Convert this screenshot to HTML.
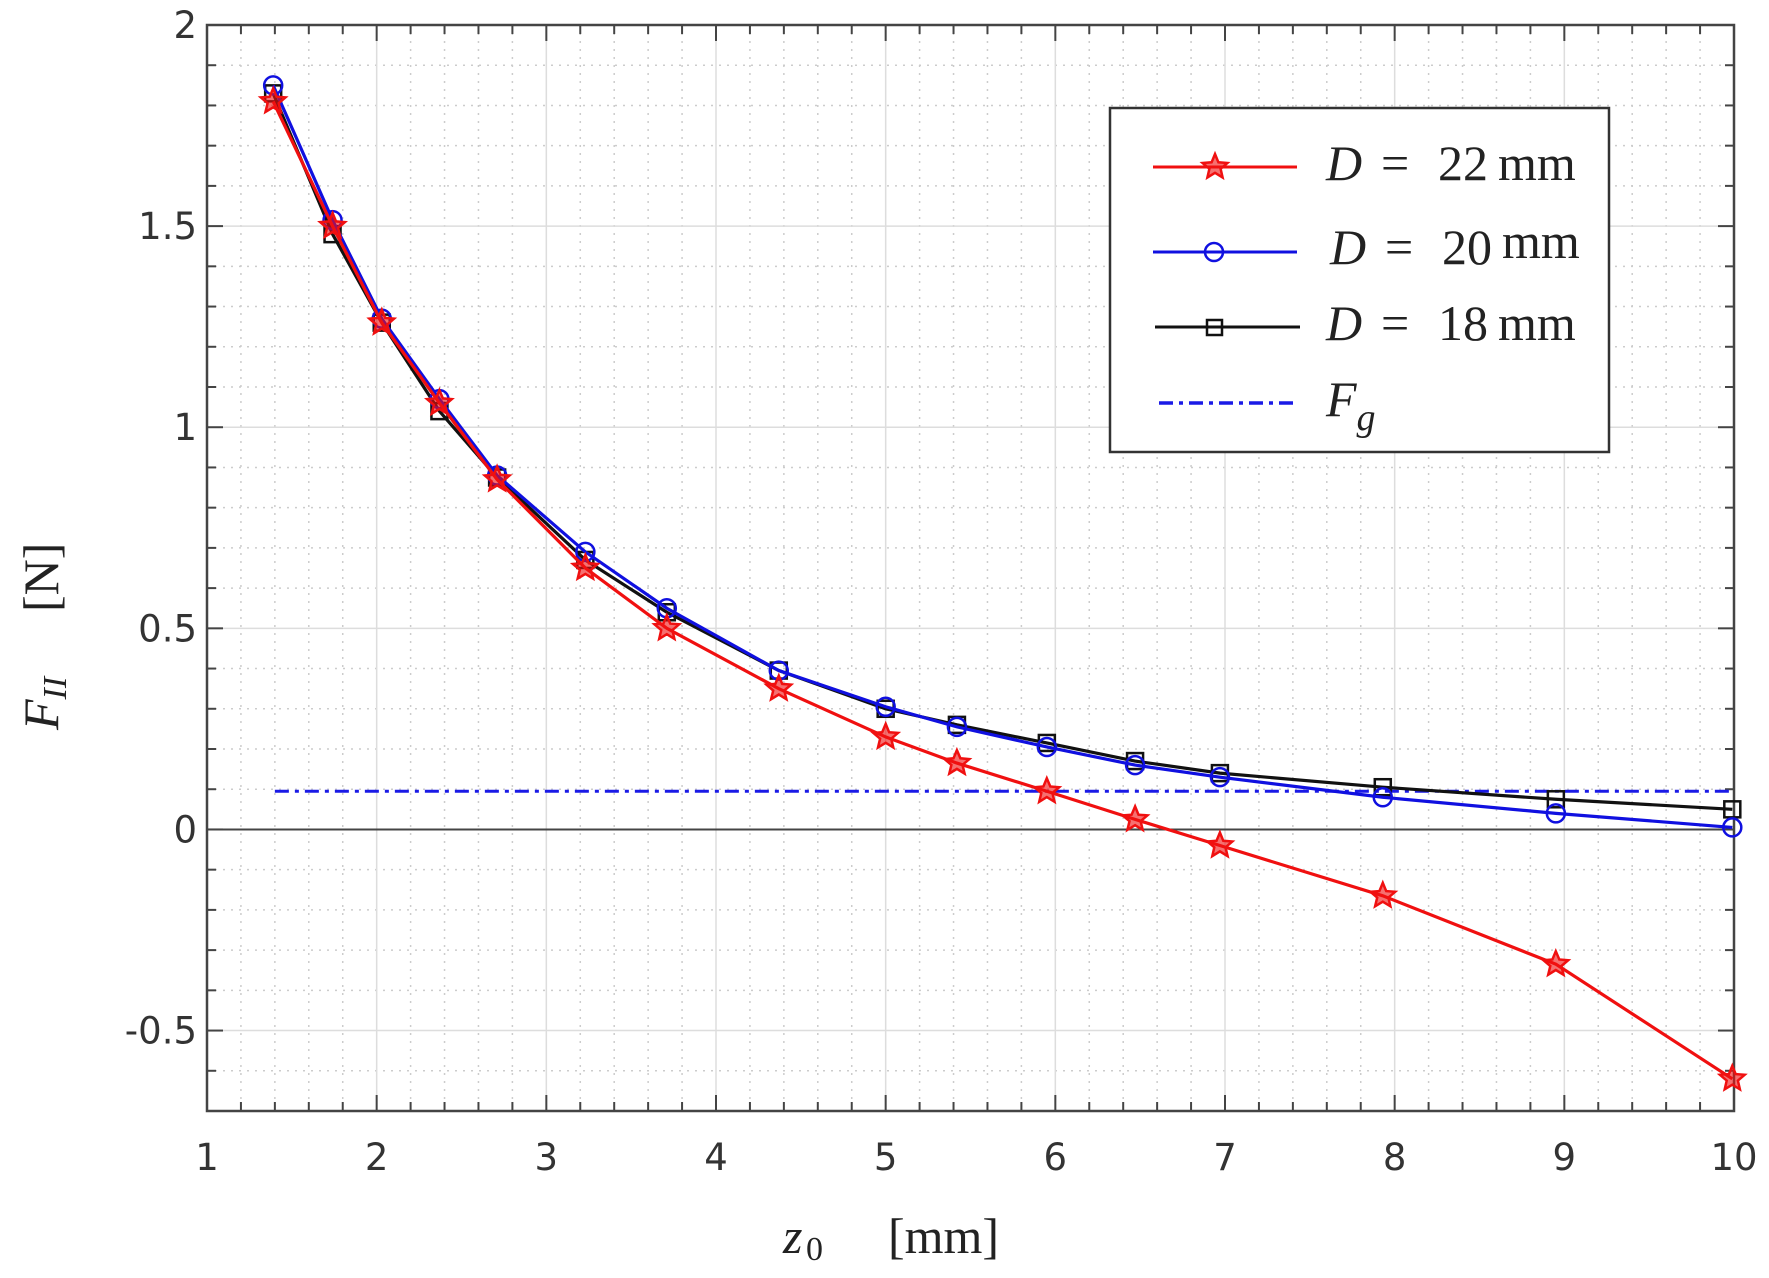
<!DOCTYPE html>
<html><head><meta charset="utf-8"><style>
html,body{margin:0;padding:0;background:#fff;width:1769px;height:1278px;overflow:hidden}
</style></head><body>
<svg id="s" xmlns="http://www.w3.org/2000/svg" width="1769" height="1278" viewBox="0 0 1769 1278"></svg>
<script>
const L=207,R=1734,T=25,B=1111;
const X=x=>L+(x-1)*(R-L)/9;
const Y=y=>T+(2-y)*(B-T)/2.7;
let h='<rect width="1769" height="1278" fill="#fff"/>';
for(let i=0;i<=45;i++){let x=1+i*0.2;if(i%5==0)continue;h+=`<line x1="${X(x)}" y1="${T}" x2="${X(x)}" y2="${B}" stroke="#ccc" stroke-width="1.5" stroke-dasharray="2,6"/>`;}
for(let i=0;i<=27;i++){let y=-0.7+i*0.1;if(Math.abs(Math.round(y*2)-y*2)<1e-6)continue;h+=`<line x1="${L}" y1="${Y(y)}" x2="${R}" y2="${Y(y)}" stroke="#ccc" stroke-width="1.5" stroke-dasharray="2,6"/>`;}
for(let x=2;x<10;x++)h+=`<line x1="${X(x)}" y1="${T}" x2="${X(x)}" y2="${B}" stroke="#ddd" stroke-width="1.5"/>`;
for(let y=-0.5;y<2;y+=0.5){if(Math.abs(y)<1e-6)continue;h+=`<line x1="${L}" y1="${Y(y)}" x2="${R}" y2="${Y(y)}" stroke="#ddd" stroke-width="1.5"/>`;}
h+=`<line x1="${L}" y1="${Y(0)}" x2="${R}" y2="${Y(0)}" stroke="#444" stroke-width="2"/>`;
for(let i=0;i<=45;i++){let x=1+i*0.2,len=i%5==0?16:9;h+=`<line x1="${X(x)}" y1="${B}" x2="${X(x)}" y2="${B-len}" stroke="#444" stroke-width="2"/><line x1="${X(x)}" y1="${T}" x2="${X(x)}" y2="${T+len}" stroke="#444" stroke-width="2"/>`;}
for(let i=0;i<=27;i++){let y=-0.7+i*0.1,maj=Math.abs(Math.round(y*2)-y*2)<1e-6,len=maj?16:9;h+=`<line x1="${L}" y1="${Y(y)}" x2="${L+len}" y2="${Y(y)}" stroke="#444" stroke-width="2"/><line x1="${R}" y1="${Y(y)}" x2="${R-len}" y2="${Y(y)}" stroke="#444" stroke-width="2"/>`;}
h+=`<rect x="${L}" y="${T}" width="${R-L}" height="${B-T}" fill="none" stroke="#444" stroke-width="2.5"/>`;
for(let x=1;x<=10;x++)h+=`<text x="${X(x)}" y="1170" font-family="DejaVu Sans,sans-serif" font-size="37" fill="#333" text-anchor="middle">${x}</text>`;
[[2,'2'],[1.5,'1.5'],[1,'1'],[0.5,'0.5'],[0,'0'],[-0.5,'-0.5']].forEach(([y,t])=>h+=`<text x="197" y="${Y(y)+13}" font-family="DejaVu Sans,sans-serif" font-size="37" fill="#333" text-anchor="end">${t}</text>`);
h+=`<text x="783" y="1253" font-family="Liberation Serif,serif" font-size="50" font-style="italic" fill="#222">z</text><text x="806" y="1260" font-family="Liberation Serif,serif" font-size="34" fill="#222">0</text><text x="888" y="1253" font-family="Liberation Serif,serif" font-size="50" fill="#222">[mm]</text>`;
h+=`<g transform="translate(58,730) rotate(-90)"><text x="0" y="0" font-family="Liberation Serif,serif" font-size="50" font-style="italic" fill="#222">F<tspan font-size="34" dy="8">II</tspan></text><text x="118" y="0" font-family="Liberation Serif,serif" font-size="50" fill="#222">[N]</text></g>`;
const xs=[1.39,1.74,2.03,2.37,2.71,3.23,3.71,4.37,5.0,5.42,5.95,6.47,6.97,7.93,8.95,9.99];
const red=[1.81,1.5,1.26,1.06,0.87,0.65,0.50,0.35,0.23,0.165,0.095,0.025,-0.04,-0.165,-0.335,-0.62];
const blue=[1.85,1.515,1.27,1.07,0.88,0.69,0.55,0.395,0.305,0.255,0.205,0.16,0.13,0.08,0.04,0.005];
const blk=[1.83,1.48,1.26,1.04,0.875,0.67,0.54,0.395,0.30,0.26,0.215,0.17,0.14,0.105,0.075,0.05];
h+=`<line x1="${X(1.4)}" y1="${Y(0.095)}" x2="${X(10)}" y2="${Y(0.095)}" stroke="#1a1ae6" stroke-width="3" stroke-dasharray="14,6,4,6"/>`;
function star(cx,cy,r){let p=[];for(let i=0;i<10;i++){let a=-Math.PI/2+i*Math.PI/5,rr=i%2?r*0.45:r;p.push((cx+rr*Math.cos(a)).toFixed(1)+','+(cy+rr*Math.sin(a)).toFixed(1));}return `<polygon points="${p.join(' ')}" fill="#f01010" fill-opacity="0.6" stroke="#f01010" stroke-width="2.5"/>`;}
function series(d,col,mk){let pts=xs.map((x,i)=>X(x)+','+Y(d[i])).join(' ');h+=`<polyline points="${pts}" fill="none" stroke="${col}" stroke-width="3.2"/>`;xs.forEach((x,i)=>h+=mk(X(x),Y(d[i])));}
series(blk,'#111',(x,y)=>`<rect x="${x-8}" y="${y-8}" width="16" height="16" fill="none" stroke="#111" stroke-width="2.5"/>`);
series(blue,'#1010e0',(x,y)=>`<circle cx="${x}" cy="${y}" r="9" fill="none" stroke="#1010e0" stroke-width="2.5"/>`);
series(red,'#f01010',(x,y)=>star(x,y,13));
h+=`<rect x="1110" y="108" width="499" height="344" fill="#fff" stroke="#333" stroke-width="2.5"/>`;
const ly=[167,252,327,403];
h+=`<line x1="1153" y1="${ly[0]}" x2="1297" y2="${ly[0]}" stroke="#f01010" stroke-width="3"/>`+star(1215,ly[0],13);
h+=`<line x1="1153" y1="${ly[1]}" x2="1297" y2="${ly[1]}" stroke="#1010e0" stroke-width="3"/><circle cx="1214" cy="${ly[1]}" r="9" fill="none" stroke="#1010e0" stroke-width="2.5"/>`;
h+=`<line x1="1155" y1="${ly[2]}" x2="1300" y2="${ly[2]}" stroke="#111" stroke-width="3"/><rect x="1207" y="${ly[2]-7}" width="15" height="15" fill="none" stroke="#111" stroke-width="2.5"/>`;
h+=`<line x1="1159" y1="${ly[3]}" x2="1295" y2="${ly[3]}" stroke="#1a1ae6" stroke-width="3.5" stroke-dasharray="14,6,4,6"/>`;
const F='font-family="Liberation Serif,serif" font-size="50" fill="#222"';
[['22',1326,180],['20',1330,264],['18',1326,340]].forEach(([n,x,y])=>{h+=`<text x="${x}" y="${y}" ${F} font-style="italic">D</text><text x="${x+55}" y="${y}" ${F}>=</text><text x="${x+112}" y="${y}" ${F}>${n}</text><text x="${x+172}" y="${y-(n=='20'?6:0)}" ${F}>mm</text>`;});
h+=`<text x="1326" y="416" ${F} font-size="54" font-style="italic">F<tspan font-size="38" dy="14">g</tspan></text>`;
document.getElementById('s').innerHTML=h;
</script>
</body></html>
